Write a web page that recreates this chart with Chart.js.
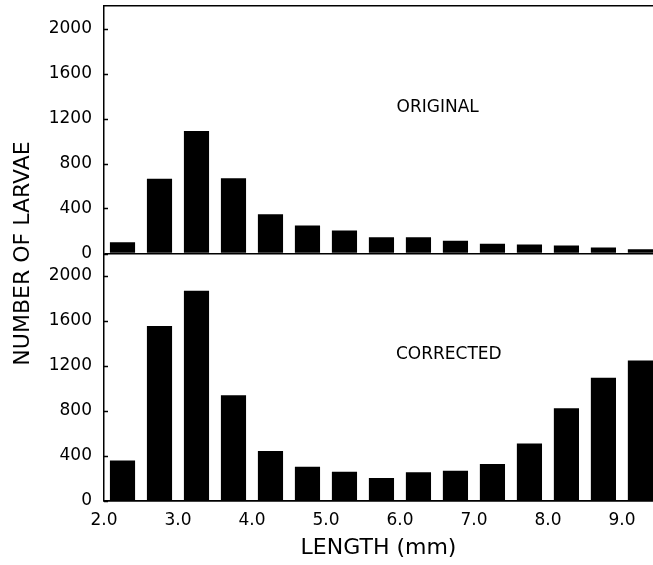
<!DOCTYPE html>
<html lang="en">
<head>
    <meta charset="UTF-8">
    <title>Larvae length distribution</title>
    <script src="https://cdn.jsdelivr.net/npm/chart.js@4"></script>
    <style>
        body {
            margin: 0;
            background: #fff;
        }
        #wrap {
            width: 653px;
            height: 565px;
        }
    </style>
</head>
<body>
    <div id="wrap"><canvas id="chart" width="653" height="565"></canvas></div>

    <script>
        // length classes (mm), bar centres
        const lengths = [2.25, 2.75, 3.25, 3.75, 4.25, 4.75, 5.25, 5.75, 6.25, 6.75, 7.25, 7.75, 8.25, 8.75, 9.25];
        const original = [100, 665, 1090, 670, 350, 250, 205, 145, 145, 113, 86, 80, 71, 53, 38];
        const corrected = [360, 1555, 1870, 940, 445, 305, 260, 205, 255, 270, 328, 512, 825, 1095, 1250];
        const panelNames = ['ORIGINAL', 'CORRECTED'];
        const yLabelEvery = 400;

        const FONT = 'DejaVu Sans';

        function yAxis() {
            return {
                type: 'linear',
                position: 'left',
                stack: 'panels',
                stackWeight: 1,
                min: 0,
                max: 2200,
                offset: false,
                border: { display: true, color: '#000', width: 1.5 },
                grid: {
                    drawOnChartArea: true,
                    drawTicks: false,
                    lineWidth: 1.5,
                    // only the zero line is visible (panel baseline)
                    color: ctx => ctx.tick && ctx.tick.value === 0 ? '#000' : 'rgba(0,0,0,0)'
                },
                ticks: {
                    stepSize: 200,
                    padding: 12,
                    color: '#000',
                    font: { family: FONT, size: 17 },
                    callback: v => (v % yLabelEvery === 0 && v <= 2000) ? String(v) : ''
                },
                afterFit: s => {
                    s.width = 104;
                    s.paddingTop = 0;
                    s.paddingBottom = 0;
                }
            };
        }

        // inward tick marks, panel captions, rotated y title
        const extraText = {
            id: 'extraText',
            afterDraw(chart, args, opts) {
                const ctx = chart.ctx;
                const x = chart.scales.x;
                ctx.save();

                ctx.strokeStyle = '#000';
                ctx.lineWidth = 1.5;
                ctx.beginPath();
                ['yTop', 'yBottom'].forEach(id => {
                    const s = chart.scales[id];
                    s.ticks.forEach(t => {
                        const py = Math.round(s.getPixelForValue(t.value)) + 0.5;
                        ctx.moveTo(s.right, py);
                        ctx.lineTo(s.right + opts.tickLen, py);
                    });
                });
                ctx.stroke();

                ctx.fillStyle = '#000';
                ctx.textAlign = 'center';
                ctx.textBaseline = 'middle';
                ctx.font = '17px "' + FONT + '"';
                opts.captions.forEach((c, i) => {
                    const y = chart.scales[c.axis];
                    ctx.fillText(panelNames[i], x.getPixelForValue(c.x), y.getPixelForValue(c.y));
                });

                const area = chart.chartArea;
                ctx.translate(opts.titleX, (area.top + area.bottom) / 2);
                ctx.rotate(-Math.PI / 2);
                ctx.font = '22px "' + FONT + '"';
                ctx.fillText('NUMBER OF LARVAE', 0, 0);
                ctx.restore();
            }
        };

        new Chart(document.getElementById('chart'), {
            type: 'bar',
            data: {
                datasets: [
                    {
                        label: panelNames[0],
                        data: lengths.map((x, i) => ({ x: x, y: original[i] })),
                        yAxisID: 'yTop',
                        backgroundColor: '#000',
                        borderWidth: 0,
                        grouped: false,
                        barPercentage: 0.68,
                        categoryPercentage: 1
                    },
                    {
                        label: panelNames[1],
                        data: lengths.map((x, i) => ({ x: x, y: corrected[i] })),
                        yAxisID: 'yBottom',
                        backgroundColor: '#000',
                        borderWidth: 0,
                        grouped: false,
                        barPercentage: 0.68,
                        categoryPercentage: 1
                    }
                ]
            },
            options: {
                responsive: false,
                animation: false,
                devicePixelRatio: 1,
                layout: { padding: { top: 6, right: 0, left: 0, bottom: 0 } },
                plugins: {
                    legend: { display: false },
                    tooltip: { enabled: false },
                    extraText: {
                        tickLen: 4,
                        titleX: 23,
                        captions: [
                            { axis: 'yTop', x: 6.51, y: 1300 },
                            { axis: 'yBottom', x: 6.66, y: 1300 }
                        ]
                    }
                },
                scales: {
                    x: {
                        type: 'linear',
                        position: 'bottom',
                        min: 2.0,
                        max: 9.42,
                        offset: false,
                        border: { display: true, color: '#000', width: 1.5 },
                        grid: { display: true, drawOnChartArea: false, drawTicks: false, offset: false },
                        ticks: {
                            stepSize: 1,
                            includeBounds: false,
                            padding: 9,
                            maxRotation: 0,
                            color: '#000',
                            font: { family: FONT, size: 17 },
                            callback: v => Number(v).toFixed(1)
                        },
                        title: {
                            display: true,
                            text: 'LENGTH (mm)',
                            color: '#000',
                            font: { family: FONT, size: 22 },
                            padding: { top: 0, bottom: 4 }
                        },
                        afterFit: s => { s.height = 64; }
                    },
                    xTop: {
                        type: 'linear',
                        position: 'top',
                        min: 2.0,
                        max: 9.42,
                        border: { display: true, color: '#000', width: 1.5 },
                        grid: { drawOnChartArea: false, drawTicks: false },
                        ticks: { display: false },
                        afterFit: s => { s.height = 0; }
                    },
                    // first axis of the stack is drawn at the bottom
                    yBottom: yAxis(),
                    yTop: yAxis()
                }
            },
            plugins: [extraText]
        });
    </script>
</body>
</html>
